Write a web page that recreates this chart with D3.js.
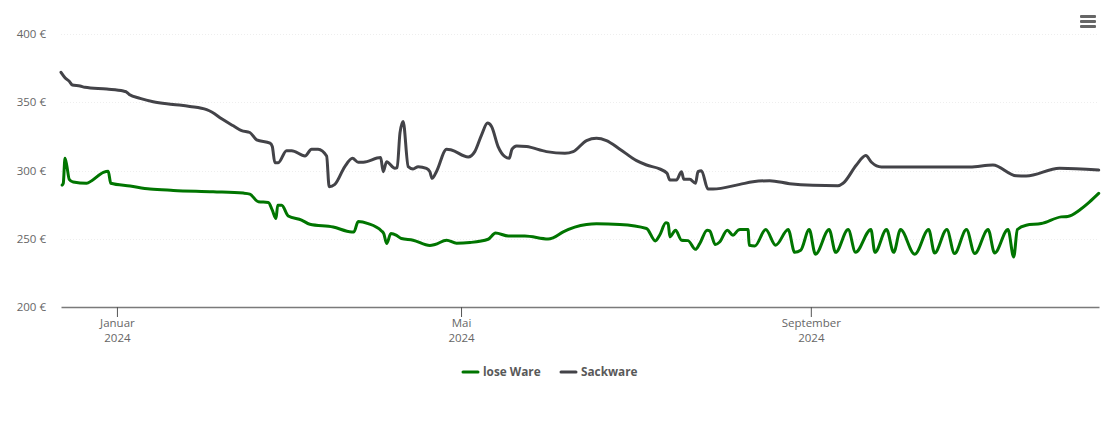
<!DOCTYPE html>
<html>
<head>
<meta charset="utf-8">
<script src="https://cdn.jsdelivr.net/npm/d3@7"></script>
<style>
  html, body { margin: 0; padding: 0; background: #fff; }
  text { font-family: "Open Sans", sans-serif; }
</style>
</head>
<body>
<div id="chart"></div>
<script>
// days counted from the left edge of the plot
const loseDays = [0.4,0.8,1.4,2,2.9,4.3,9,10.8,14.9,16.6,17.5,24.3,31.3,39.5,53.5,64.1,66.4,69.4,72.9,74.3,75.6,76.2,77.6,79.9,84.6,87.5,95.7,102.2,103,104.5,108,112.7,113.5,114.5,116,118,119.7,123.8,129.7,131.5,135.6,139.1,143.8,150.2,152.8,157.3,163.1,171.3,173,176.6,184.8,188.3,196.5,205.9,209,210.5,212.7,213.5,214.1,216.1,218.2,220.5,223.1,224.6,227.2,228.1,230.1,231.6,234.3,236.3,238.1,238.7,241.6,242,244,247.8,251.3,255.7,258,260.1,263.1,265.3,270.1,272.4,276.8,279.4,284.8,286.2,290.3,292.8,295.2,300.2,305.1,307.2,311.5,314.2,318.4,321.3,326,328.3,333,335,336.3,339.4,344.7,351.7,354,358.1,361.6,364.9];
const loseValues = [289.7,291,309.3,304.4,293.9,291.9,291,292.9,299,299.8,291,289,286.8,285.8,284.8,283.8,283.1,277.4,277,271.3,265.2,275,275,267.1,264,261,259,255.4,255.4,263,261.5,256.1,254.2,246.8,254.2,252.9,250.5,249.3,245.4,246.1,249.3,247.1,247.6,250,254.6,252.4,252.4,250.2,251,255.4,260.8,261.3,260.8,257.9,248.8,252.9,262,261.5,251.7,256.6,249.3,249,242.6,246.8,256.6,256.1,246.1,248,256.6,252.9,256.6,257.1,257.1,245.6,245.1,257.1,245.6,257.1,240.4,241.9,257.1,239,257.1,240.4,257.1,240.4,257.1,240.4,257.1,240.4,257.1,239,257.1,239.9,257.1,239.5,257.1,239.5,257.1,239.9,257.1,237,257.1,260.3,261.5,266.4,266.7,271.3,277.2,283.6];

const sackDays = [0,1.4,2.9,4,6.7,8.4,16.1,21.9,22.8,24,27.8,32.4,39.4,45.3,51.2,53,56.5,60.6,63.5,66.4,68.8,73.5,74.3,75.2,76.4,79.3,81.1,85.8,88.1,90.4,93.4,94.3,96.3,99.8,102.5,104.5,106.3,112.4,113.3,114.5,117.4,118.2,119.2,120.3,122.1,123.8,125.6,128.5,129.7,130.5,132,135.6,137.3,143.2,145.5,147.9,150,151.4,153.7,156.1,157.6,158.6,160.2,163.7,170.7,177.2,180.1,184.8,188.3,191.8,196.5,202.4,205.9,210.5,213.1,214.1,216.4,218.2,219,221.1,223.1,224,225.2,227.5,229.3,238.7,243.3,249.2,256.2,264.4,273.2,275,279.7,283,285,288.5,319.6,327.7,335.9,339.4,351.1,364.9];
const sackValues = [372.3,368.4,365.7,363,362.3,361.3,360,358.6,358.1,356.1,353.2,350.7,348.8,347.3,344.9,343.2,338.2,333.1,329.6,328.2,322.8,320.4,317.9,306.1,306.1,314.9,314.9,311,316,316,311,288.5,290.2,303.2,309.3,306.4,306.4,309.8,299.5,306.8,302,302.4,327.9,336.3,303.2,301.5,303.2,302,299.5,294.6,299.5,316,315.4,310.3,314.2,326.5,335.1,332.6,317.9,310.5,309.3,316,318.4,317.9,314.2,313,314.2,322.3,324,322.3,316,307.6,304.4,301.5,298.3,293.4,293.4,299.5,293.9,293.9,291,299.5,300.2,286.8,286.8,290.2,292.1,292.9,290.7,289.5,289.2,291,304.4,311.3,306.4,302.9,302.9,304.4,296.5,296.3,302,300.7];

const yTicks = [200, 250, 300, 350, 400];
const monthNames = { 0: 'Januar', 4: 'Mai', 8: 'September' };
const xTicks = [new Date(2024, 0, 1), new Date(2024, 4, 1), new Date(2024, 8, 1)];
const seriesNames = ['lose Ware', 'Sackware'];
const seriesColors = ['#007500', '#434348'];

const width = 1110, height = 422;
const margin = { top: 34.5, right: 11, bottom: 114.5, left: 61 };
const innerWidth = width - margin.left - margin.right;
const innerHeight = height - margin.top - margin.bottom;

const start = new Date(2023, 11, 12, 8);
const dayDate = d => new Date(start.getTime() + d * 864e5);

const svg = d3.select('#chart').append('svg')
  .attr('width', width)
  .attr('height', height)
  .style('display', 'block');

const g = svg.append('g')
  .attr('transform', 'translate(' + margin.left + ',' + margin.top + ')');

const x = d3.scaleTime()
  .domain([start, dayDate(365)])
  .range([0, innerWidth]);

const y = d3.scaleLinear()
  .domain([200, 400])
  .range([innerHeight, 0]);

// grid
g.append('g').selectAll('line')
  .data(yTicks.slice(1))
  .join('line')
  .attr('x1', 0)
  .attr('x2', innerWidth)
  .attr('y1', d => Math.floor(y(d) + margin.top) + 0.5 - margin.top)
  .attr('y2', d => Math.floor(y(d) + margin.top) + 0.5 - margin.top)
  .attr('stroke', '#eeeeee')
  .attr('stroke-dasharray', '1,2');

// y axis
const yAxis = g.append('g')
  .call(d3.axisLeft(y).tickValues(yTicks).tickSize(0).tickPadding(15).tickFormat(d => d + ' €'));
yAxis.select('.domain').remove();
yAxis.selectAll('text')
  .attr('fill', '#666')
  .attr('dy', '0.27em')
  .style('font-size', '11.5px');

// x axis
const xAxis = g.append('g')
  .attr('transform', 'translate(0,' + (innerHeight - 0.5) + ')')
  .call(d3.axisBottom(x).tickValues(xTicks).tickSizeInner(10).tickSizeOuter(0).tickFormat(''));
xAxis.select('.domain').attr('stroke', '#7a7a7a').attr('stroke-width', 1.5);
xAxis.selectAll('.tick line').attr('stroke', '#555');
xAxis.selectAll('.tick text').each(function (d) {
  const t = d3.select(this).attr('y', 0).attr('dy', null).attr('fill', '#666').style('font-size', '11.5px');
  t.append('tspan').attr('x', 0).attr('y', 20).text(monthNames[d.getMonth()]);
  t.append('tspan').attr('x', 0).attr('y', 35).text(d.getFullYear());
});

// lines
const line = d3.line()
  .x(d => x(dayDate(d[0])))
  .y(d => y(d[1]))
  .curve(d3.curveMonotoneX);

[[loseDays, loseValues], [sackDays, sackValues]].forEach((s, i) => {
  g.append('path')
    .datum(d3.zip(s[0], s[1]))
    .attr('fill', 'none')
    .attr('stroke', seriesColors[i])
    .attr('stroke-width', 3)
    .attr('stroke-linejoin', 'round')
    .attr('stroke-linecap', 'round')
    .attr('d', line);
});

// legend
const legendX = [463, 561];
seriesNames.forEach((name, i) => {
  svg.append('line')
    .attr('x1', legendX[i])
    .attr('x2', legendX[i] + 15)
    .attr('y1', 372)
    .attr('y2', 372)
    .attr('stroke', seriesColors[i])
    .attr('stroke-width', 3)
    .attr('stroke-linecap', 'round');
  svg.append('text')
    .attr('x', legendX[i] + 20)
    .attr('y', 376)
    .attr('fill', '#595959')
    .style('font-size', '11.8px')
    .style('font-weight', 'bold')
    .text(name);
});

// menu icon
[15, 20, 25].forEach(top => {
  svg.append('rect')
    .attr('x', 1080)
    .attr('y', top)
    .attr('width', 16)
    .attr('height', 3)
    .attr('rx', 1)
    .attr('fill', '#666');
});
</script>
</body>
</html>
